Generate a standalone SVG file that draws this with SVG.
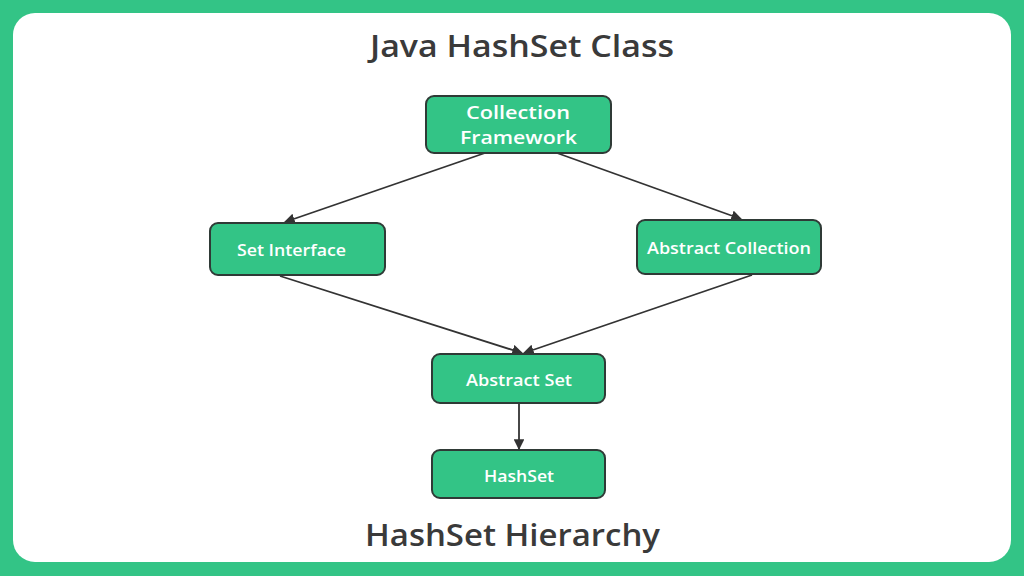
<svg xmlns="http://www.w3.org/2000/svg" width="1024" height="576" viewBox="0 0 1024 576">
<defs>
<style>
.node rect{fill:#33c486;stroke:#2f3a36;stroke-width:2}
.nt{font-family:"Open Sans","Noto Sans",sans-serif;font-weight:600;fill:#ffffff;text-anchor:middle}
.title{font-family:"Open Sans","Noto Sans",sans-serif;font-weight:600;fill:#3a3a3a;text-anchor:middle;font-size:30px}
.edge{stroke:#333333;stroke-width:1.8;fill:none;marker-end:url(#arr)}
</style>
<marker id="arr" viewBox="0 0 10 10" refX="9" refY="5" markerWidth="6" markerHeight="6" orient="auto" markerUnits="strokeWidth">
<path d="M0,0 L10,5 L0,10 z" fill="#333333"/>
</marker>
</defs>
<rect x="0" y="0" width="1024" height="576" fill="#33c486"/>
<rect x="13" y="13" width="998" height="549" rx="22" fill="#ffffff"/>
<text class="title" x="522" y="57" textLength="304" lengthAdjust="spacingAndGlyphs">Java HashSet Class</text>
<text class="title" x="512.5" y="546" textLength="295" lengthAdjust="spacingAndGlyphs">HashSet Hierarchy</text>
<g id="connectors">
<line class="edge" x1="485" y1="153" x2="285" y2="222"/>
<line class="edge" x1="557" y1="153" x2="741" y2="219"/>
<line class="edge" x1="280" y1="276" x2="522" y2="353"/>
<line class="edge" x1="752" y1="275" x2="524" y2="353"/>
<line class="edge" x1="519" y1="403" x2="519" y2="449"/>
</g>
<g id="n-collection" class="node">
<rect x="426" y="96" width="185" height="57" rx="8"/>
<text class="nt" x="518" y="119" font-size="17.5" textLength="104" lengthAdjust="spacingAndGlyphs">Collection</text>
<text class="nt" x="518.5" y="144" font-size="17.5" textLength="117" lengthAdjust="spacingAndGlyphs">Framework</text>
</g>
<g id="n-set" class="node">
<rect x="210" y="223" width="175" height="52" rx="8"/>
<text class="nt" x="291.5" y="256" font-size="16" textLength="109" lengthAdjust="spacingAndGlyphs">Set Interface</text>
</g>
<g id="n-abscoll" class="node">
<rect x="637" y="220" width="184" height="54" rx="8"/>
<text class="nt" x="729" y="254" font-size="16" textLength="164" lengthAdjust="spacingAndGlyphs">Abstract Collection</text>
</g>
<g id="n-absset" class="node">
<rect x="432" y="354" width="173" height="49" rx="8"/>
<text class="nt" x="519" y="386" font-size="16" textLength="106" lengthAdjust="spacingAndGlyphs">Abstract Set</text>
</g>
<g id="n-hashset" class="node">
<rect x="432" y="450" width="173" height="48" rx="8"/>
<text class="nt" x="519" y="482" font-size="16" textLength="70" lengthAdjust="spacingAndGlyphs">HashSet</text>
</g>
</svg>
